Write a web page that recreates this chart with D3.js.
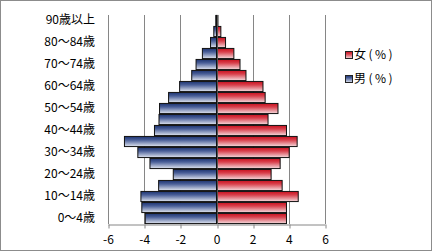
<!DOCTYPE html>
<html>
<head>
<meta charset="utf-8">
<script src="https://cdn.jsdelivr.net/npm/d3@7"></script>
<style>
	body { margin: 0; background: #fff; }
	svg text { font-family: "Noto Sans CJK JP", "DejaVu Sans", sans-serif; }
</style>
</head>
<body>
<div class="chart"></div>
<script>
const ageGroups = ["0～4歳", "5～9歳", "10～14歳", "15～19歳", "20～24歳", "25～29歳", "30～34歳",
	"35～39歳", "40～44歳", "45～49歳", "50～54歳", "55～59歳", "60～64歳", "65～69歳",
	"70～74歳", "75～79歳", "80～84歳", "85～89歳", "90歳以上"];
const female = [3.87, 3.87, 4.52, 3.63, 3.02, 3.52, 4.02, 4.46, 3.87, 2.85, 3.4, 2.69, 2.57, 1.63, 1.3, 0.96, 0.5, 0.24, 0.08];
const male = [3.94, 4.13, 4.18, 3.2, 2.39, 3.68, 4.35, 5.09, 3.43, 3.18, 3.15, 2.65, 2.04, 1.37, 1.13, 0.78, 0.33, 0.15, 0.04];
const xTicks = [-6, -4, -2, 0, 2, 4, 6];
const seriesNames = ["女(%)", "男(%)"];

const width = 433, height = 252;
const plot = { left: 108, right: 325, top: 15, bottom: 224 };

const svg = d3.select("div.chart").append("svg")
	.attr("width", width)
	.attr("height", height);

// gradients for the bars
const defs = svg.append("defs");
function createGradient(id, top, mid, bottom) {
	const lg = defs.append("linearGradient")
		.attr("id", id)
		.attr("x1", 0).attr("y1", 0).attr("x2", 0).attr("y2", 1);
	lg.append("stop").attr("offset", "0%").style("stop-color", top);
	lg.append("stop").attr("offset", "35%").style("stop-color", mid);
	lg.append("stop").attr("offset", "100%").style("stop-color", bottom);
}
createGradient("gradRed", "#c8101e", "#d8404c", "#f4dadd");
createGradient("gradBlue", "#1c3370", "#4a5f98", "#dfe4ef");

// outer border
svg.append("rect")
	.attr("x", 0.5).attr("y", 0.5)
	.attr("width", width - 2).attr("height", height - 2)
	.attr("fill", "none")
	.attr("stroke", "#8c8c8c");

const x = d3.scaleLinear().domain([-6, 6]).range([plot.left, plot.right]);
const y = d3.scaleBand().domain(ageGroups.slice().reverse())
	.range([plot.top, plot.bottom])
	.paddingInner(0.08)
	.paddingOuter(0.04);

// gridlines
svg.append("g")
	.selectAll("line")
	.data(xTicks)
	.join("line")
	.attr("x1", d => Math.round(x(d)) + 0.5)
	.attr("x2", d => Math.round(x(d)) + 0.5)
	.attr("y1", plot.top)
	.attr("y2", plot.bottom)
	.attr("stroke", "#868686");

// x axis
const xAxis = svg.append("g")
	.attr("transform", "translate(0," + (plot.bottom + 0.5) + ")")
	.call(d3.axisBottom(x).tickValues(xTicks).tickSize(4).tickSizeOuter(0).tickFormat(d3.format("d")));
xAxis.select(".domain").attr("stroke", "#868686");
xAxis.selectAll(".tick line").attr("stroke", "#868686")
	.attr("transform", d => "translate(" + (Math.round(x(d)) + 0.5 - x(d)) + ",0)");
xAxis.selectAll("text")
	.attr("y", 11)
	.attr("font-size", 12)
	.attr("fill", "#000")
	.text(d => d < 0 ? "-" + Math.abs(d) : d);

// category labels (every other one)
const yAxis = svg.append("g")
	.attr("transform", "translate(" + (plot.left - 13) + ",0)")
	.call(d3.axisLeft(y).tickValues(ageGroups.filter((d, i) => i % 2 === 0)).tickSize(0));
yAxis.select(".domain").remove();
yAxis.selectAll("text")
	.attr("x", 0)
	.attr("font-size", 12)
	.attr("fill", "#000");

// bars
svg.append("g")
	.selectAll("rect")
	.data(ageGroups)
	.join("rect")
	.attr("x", d => x(-male[ageGroups.indexOf(d)]))
	.attr("y", d => y(d))
	.attr("width", d => x(0) - x(-male[ageGroups.indexOf(d)]))
	.attr("height", y.bandwidth())
	.attr("fill", "url(#gradBlue)")
	.attr("stroke", "#111")
	.attr("stroke-width", 1);

svg.append("g")
	.selectAll("rect")
	.data(ageGroups)
	.join("rect")
	.attr("x", x(0))
	.attr("y", d => y(d))
	.attr("width", d => x(female[ageGroups.indexOf(d)]) - x(0))
	.attr("height", y.bandwidth())
	.attr("fill", "url(#gradRed)")
	.attr("stroke", "#111")
	.attr("stroke-width", 1);

// category axis at zero
svg.append("line")
	.attr("x1", Math.round(x(0)) + 0.5)
	.attr("x2", Math.round(x(0)) + 0.5)
	.attr("y1", plot.top)
	.attr("y2", plot.bottom)
	.attr("stroke", "#555");

// legend
const legend = svg.append("g")
	.selectAll("g")
	.data(seriesNames)
	.join("g")
	.attr("transform", (d, i) => "translate(345," + (51 + i * 24) + ")");
legend.append("rect")
	.attr("x", 0.5).attr("y", 0.5)
	.attr("width", 7).attr("height", 7)
	.attr("fill", (d, i) => i === 0 ? "url(#gradRed)" : "url(#gradBlue)")
	.attr("stroke", "#222");
legend.append("text")
	.attr("x", 9)
	.attr("y", 4)
	.attr("dy", "0.35em")
	.attr("font-size", 12)
	.attr("letter-spacing", 2.5)
	.text(d => d);
</script>
</body>
</html>
